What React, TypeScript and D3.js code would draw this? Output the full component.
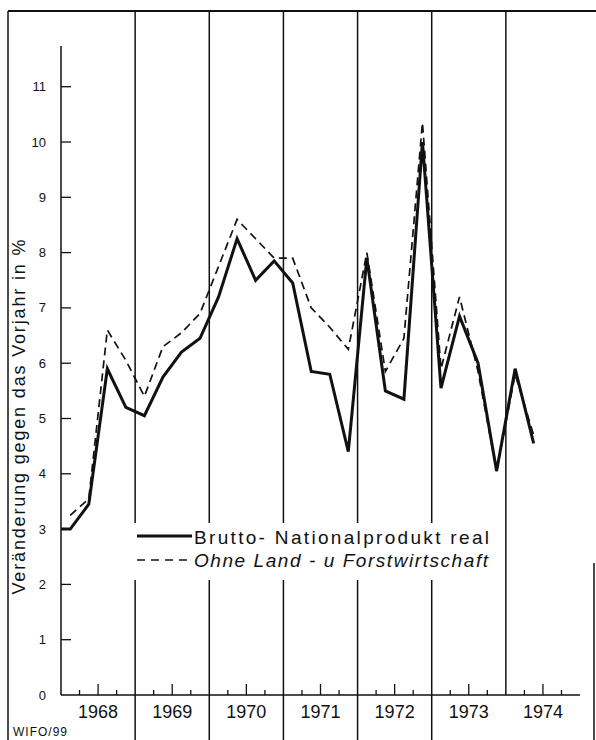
import * as d3 from "d3";

// quarterly growth rates in %, 1968 Q1 .. 1974 Q2
const years = [1968, 1969, 1970, 1971, 1972, 1973, 1974];
const yTickValues = [0, 1, 2, 3, 4, 5, 6, 7, 8, 9, 10, 11];
const bnpReal = [
    3.0, 3.45, 5.9, 5.2,
    5.05, 5.75, 6.2, 6.45,
    7.2, 8.25, 7.5, 7.85,
    7.45, 5.85, 5.8, 4.4,
    7.9, 5.5, 5.35, 10.0,
    5.55, 6.85, 6.0, 4.05,
    5.9, 4.55,
];
const ohneLandForst = [
    3.25, 3.55, 6.6, 6.05,
    5.4, 6.3, 6.55, 6.9,
    7.75, 8.6, 8.25, 7.9,
    7.9, 7.0, 6.65, 6.25,
    8.0, 5.85, 6.45, 10.35,
    5.9, 7.2, 5.85, 4.05,
    5.8, 4.7,
];
const legendLabels = ["Brutto- Nationalprodukt real", "Ohne Land - u Forstwirtschaft"];

export default function App() {
    const width = 596;
    const height = 740;
    const x0 = 61;
    const x1 = 580;
    const yBase = 695;

    const x = d3.scaleLinear().domain([1968, 1975]).range([x0, x1]);
    const y = d3.scaleLinear().domain([0, 11]).range([yBase, yBase - 11 * 55.3]);

    const quarterT = (i) => 1968 + (i + 0.5) / 4;
    const line = d3
        .line()
        .x((d) => x(d[0]))
        .y((d) => y(d[1]));

    // solid line starts at the axis with the first quarter's value
    const solidPts = [[1968, bnpReal[0]], ...bnpReal.map((v, i) => [quarterT(i), v])];
    const dashPts = ohneLandForst.map((v, i) => [quarterT(i), v]);

    const boundaries = years.slice(1).map((yr) => x(yr));
    const quarterTicks = years.flatMap((yr) => [1, 2, 3].map((q) => ({ t: yr + q / 4, mid: q === 2 })));

    const font = "'Liberation Sans', 'DejaVu Sans', sans-serif";

    return (
        <svg
            width={width}
            height={height}
            style={{ position: "absolute", left: 0, top: 0, background: "#fff" }}
            fontFamily={font}
        >
            <rect width={width} height={height} fill="#fff" />
            {/* frame */}
            <line x1={8} x2={596} y1={11} y2={11} stroke="#111" strokeWidth={2} />
            <line x1={8} x2={8} y1={11} y2={740} stroke="#111" strokeWidth={1.5} />
            <line x1={594} x2={594} y1={563} y2={740} stroke="#111" strokeWidth={1.5} />

            {/* year boundary lines */}
            {boundaries.map((bx, i) => (
                <line
                    key={i}
                    x1={bx}
                    x2={bx}
                    y1={11}
                    y2={i === boundaries.length - 1 ? yBase : 740}
                    stroke="#111"
                    strokeWidth={1.5}
                />
            ))}

            {/* axes */}
            <line x1={x0} x2={x0} y1={46} y2={yBase} stroke="#111" strokeWidth={1.5} />
            <line x1={x0} x2={x1} y1={yBase} y2={yBase} stroke="#111" strokeWidth={1.5} />
            {yTickValues.map((v) => (
                <g key={v}>
                    {v > 0 && (
                        <line x1={x0} x2={x0 + 10} y1={y(v)} y2={y(v)} stroke="#111" strokeWidth={1.3} />
                    )}
                    <text x={46} y={y(v)} dy="0.35em" textAnchor="end" fontSize={13} fill="#111">
                        {v}
                    </text>
                </g>
            ))}
            {quarterTicks.map((d, i) => (
                <line
                    key={i}
                    x1={x(d.t)}
                    x2={x(d.t)}
                    y1={yBase}
                    y2={yBase - (d.mid ? 11 : 5)}
                    stroke="#111"
                    strokeWidth={1.3}
                />
            ))}
            {years.map((yr) => (
                <text key={yr} x={x(yr + 0.5)} y={718} textAnchor="middle" fontSize={18} fill="#111">
                    {yr}
                </text>
            ))}

            <text
                transform={`translate(25,417) rotate(-90)`}
                textAnchor="middle"
                fontSize={18}
                textLength={355}
                lengthAdjust="spacing"
                fill="#111"
            >
                Veränderung gegen das Vorjahr in %
            </text>

            {/* series */}
            <path d={line(dashPts)} fill="none" stroke="#111" strokeWidth={1.7} strokeDasharray="8 5" />
            <path d={line(solidPts)} fill="none" stroke="#111" strokeWidth={3} strokeLinejoin="miter" />

            {/* legend */}
            <rect x={128} y={523} width={370} height={57} fill="#fff" />
            <line x1={137} x2={192} y1={536} y2={536} stroke="#111" strokeWidth={3} />
            <text x={194} y={544} fontSize={19} textLength={295} lengthAdjust="spacing" fill="#111">
                {legendLabels[0]}
            </text>
            <line x1={137} x2={192} y1={560} y2={560} stroke="#111" strokeWidth={1.7} strokeDasharray="8 6" />
            <text
                x={194}
                y={567}
                fontSize={19}
                fontStyle="italic"
                textLength={294}
                lengthAdjust="spacing"
                fill="#111"
            >
                {legendLabels[1]}
            </text>

            <text x={13} y={736} fontSize={12} letterSpacing={1} fill="#111">
                WIFO/99
            </text>
        </svg>
    );
}
